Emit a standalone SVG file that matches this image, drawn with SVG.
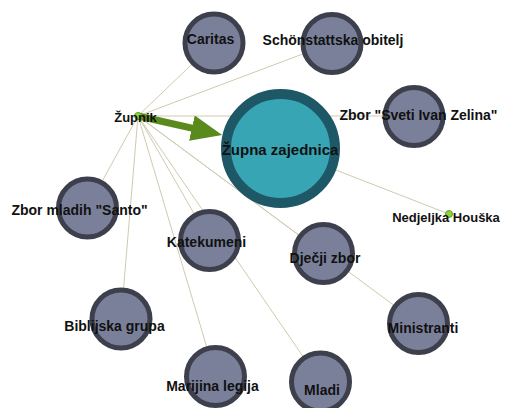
<svg xmlns="http://www.w3.org/2000/svg" width="507" height="408" viewBox="0 0 507 408">
<defs>
<style>
.edge{stroke:#cfcbb0;stroke-width:1;fill:none}
.grp circle{fill:#7a8099;stroke:#3d404c;stroke-width:5}
text{font-family:"Liberation Sans",Arial,sans-serif;font-weight:bold;fill:#111;text-anchor:middle}
.g{font-size:14px}
.p{font-size:13px}
.dot{fill:#8fd43c;stroke:#5e9e22;stroke-width:1}
</style>
<marker id="ah" markerUnits="userSpaceOnUse" markerWidth="31" markerHeight="26" refX="16" refY="13" orient="auto">
<path d="M0,0 L31,13 L0,26 z" fill="#5b8a1c"/>
</marker>
</defs>
<rect width="507" height="408" fill="#ffffff"/>
<g id="connectors">
<line class="edge" x1="138" y1="116" x2="214" y2="43"/>
<line class="edge" x1="138" y1="116" x2="332" y2="43"/>
<line class="edge" x1="138" y1="116" x2="414" y2="116"/>
<line class="edge" x1="138" y1="116" x2="87.5" y2="208"/>
<line class="edge" x1="138" y1="116" x2="209.5" y2="240.5"/>
<line class="edge" x1="138" y1="116" x2="323.5" y2="253.5"/>
<line class="edge" x1="138" y1="116" x2="418.5" y2="323.5"/>
<line class="edge" x1="138" y1="116" x2="121" y2="319"/>
<line class="edge" x1="138" y1="116" x2="215.5" y2="376.5"/>
<line class="edge" x1="138" y1="116" x2="320.5" y2="382"/>
<line class="edge" x1="280.5" y1="148.5" x2="449" y2="214"/>
<line x1="138" y1="116" x2="207.5" y2="131.6" stroke="#5b8a1c" stroke-width="7" marker-end="url(#ah)"/>
</g>
<g id="zupna-zajednica">
<circle cx="280.5" cy="148.5" r="54.5" fill="#38a5b5" stroke="#1e5867" stroke-width="10"/>
<text class="g" x="280" y="155" style="font-size:15px">Župna zajednica</text>
</g>
<g id="caritas" class="grp"><circle cx="214" cy="43" r="29"/><text class="g" x="210.5" y="44">Caritas</text></g>
<g id="schonstattska" class="grp"><circle cx="332" cy="43.5" r="29"/><text class="g" x="333" y="45">Schönstattska obitelj</text></g>
<g id="zbor-sveti-ivan" class="grp"><circle cx="414" cy="116.5" r="29"/><text class="g" x="418.5" y="120">Zbor "Sveti Ivan Zelina"</text></g>
<g id="zbor-mladih" class="grp"><circle cx="87.5" cy="208" r="29"/><text class="g" x="79.5" y="215">Zbor mladih "Santo"</text></g>
<g id="katekumeni" class="grp"><circle cx="209.5" cy="240.5" r="29"/><text class="g" x="206.5" y="247">Katekumeni</text></g>
<g id="djecji-zbor" class="grp"><circle cx="323.5" cy="253.5" r="29"/><text class="g" x="325" y="263">Dječji zbor</text></g>
<g id="ministranti" class="grp"><circle cx="418.5" cy="323.5" r="29"/><text class="g" x="423" y="333">Ministranti</text></g>
<g id="biblijska-grupa" class="grp"><circle cx="121" cy="319" r="29"/><text class="g" x="114.5" y="331">Biblijska grupa</text></g>
<g id="marijina-legija" class="grp"><circle cx="215.5" cy="376.5" r="29"/><text class="g" x="212.5" y="391">Marijina legija</text></g>
<g id="mladi" class="grp"><circle cx="320.5" cy="382" r="29"/><text class="g" x="322" y="395">Mladi</text></g>
<g id="zupnik"><circle class="dot" cx="138" cy="116" r="3.5"/><text class="p" x="135.5" y="122">Župnik</text></g>
<g id="nedjeljka"><circle class="dot" cx="449" cy="214" r="3.5"/><text class="p" x="446" y="222">Nedjeljka Houška</text></g>
</svg>
